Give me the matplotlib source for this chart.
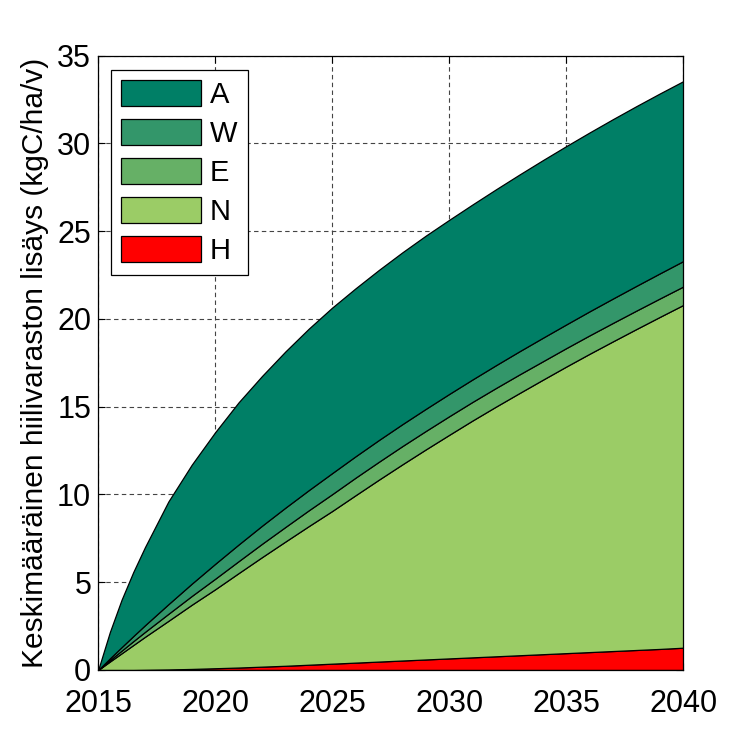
import numpy as np
import matplotlib.pyplot as plt

years = [2015, 2015.5, 2016, 2016.5, 2017, 2018, 2019, 2020, 2021, 2022, 2023,
         2024, 2025, 2026, 2027, 2028, 2029, 2030, 2031, 2032, 2033, 2034,
         2035, 2036, 2037, 2038, 2039, 2040]

# layer thicknesses (kgC/ha/v), bottom to top
H = [0, 0.0, 0.0, 0.0, 0.01, 0.03, 0.06, 0.10, 0.14, 0.19, 0.24, 0.30, 0.36,
     0.42, 0.48, 0.54, 0.60, 0.66, 0.72, 0.78, 0.84, 0.90, 0.96, 1.02, 1.08,
     1.14, 1.20, 1.27]
N = [0, 0.48, 0.95, 1.42, 1.88, 2.77, 3.66, 4.50, 5.38, 6.24, 7.08, 7.90, 8.70,
     9.54, 10.37, 11.18, 11.97, 12.74, 13.50, 14.23, 14.94, 15.64, 16.33,
     17.00, 17.65, 18.29, 18.92, 19.53]
E = [0, 0.08, 0.15, 0.22, 0.28, 0.40, 0.50, 0.60, 0.68, 0.76, 0.83, 0.90, 0.96,
     1.00, 1.02, 1.04, 1.05, 1.06, 1.06, 1.06, 1.06, 1.05, 1.05, 1.05, 1.05,
     1.05, 1.05, 1.05]
W = [0, 0.10, 0.20, 0.29, 0.38, 0.55, 0.70, 0.85, 0.95, 1.03, 1.10, 1.15, 1.20,
     1.22, 1.24, 1.25, 1.26, 1.27, 1.28, 1.30, 1.32, 1.34, 1.35, 1.37, 1.39,
     1.41, 1.43, 1.45]
A = [0, 1.50, 2.70, 3.65, 4.45, 5.85, 6.78, 7.50, 8.10, 8.53, 8.90, 9.20, 9.43,
     9.57, 9.69, 9.79, 9.87, 9.92, 9.97, 10.02, 10.07, 10.12, 10.16, 10.19,
     10.22, 10.24, 10.25, 10.25]

labels = ['H', 'N', 'E', 'W', 'A']
colors = ['#ff0000', '#9bcc66', '#66b066', '#33966a', '#007f66']

plt.rcParams['font.family'] = ['Liberation Sans', 'DejaVu Sans']

fig = plt.figure(figsize=(7.55, 7.55), dpi=100)
ax = fig.add_axes([0.13, 0.1126, 0.775, 0.8136])

ax.stackplot(years, H, N, E, W, A, labels=labels, colors=colors,
             edgecolor='black', linewidth=0.9, zorder=2)

ax.set_xlim(2015, 2040)
ax.set_ylim(0, 35)
ax.set_xticks(np.arange(2015, 2041, 5))
ax.set_yticks(np.arange(0, 36, 5))
ax.tick_params(labelsize=22, direction='in', length=5, width=0.8,
               top=True, right=True)
ax.tick_params(axis='x', pad=14)
ax.tick_params(axis='y', pad=5)
ax.grid(True, color='#444444', linestyle=(0, (4, 3)), linewidth=0.8, zorder=0)
ax.set_axisbelow(True)
for sp in ax.spines.values():
    sp.set_linewidth(0.9)
    sp.set_zorder(3)

ax.set_ylabel('Keskimääräinen hiilivaraston lisäys (kgC/ha/v)', fontsize=21.5,
              labelpad=6)

# legend lists top layer first
handles, labs = ax.get_legend_handles_labels()
leg = ax.legend(handles[::-1], labs[::-1], loc='upper left',
                bbox_to_anchor=(0.022, 0.977), fontsize=21, fancybox=False,
                edgecolor='black', framealpha=1, handlelength=2.74,
                handleheight=1.0, labelspacing=0.34, handletextpad=0.3,
                borderpad=0.35, borderaxespad=0)
leg.get_frame().set_linewidth(0.9)
for p in leg.get_patches():
    p.set_edgecolor('black')

fig.savefig('out.png', dpi=100)
